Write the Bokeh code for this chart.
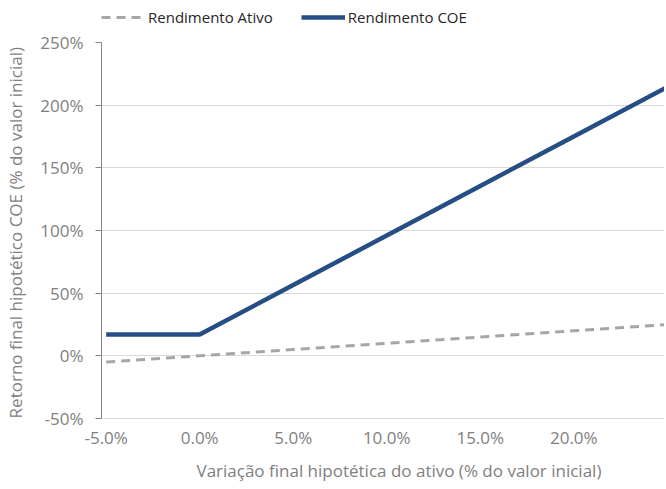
from bokeh.plotting import figure
from bokeh.layouts import column
from bokeh.models import Range1d, FixedTicker, PrintfTickFormatter, Legend, LegendItem, Title
from bokeh.embed import file_html
from bokeh.resources import INLINE

# Data (values in percent)
x_vals = [-5, 0, 5, 10, 15, 20, 25]
rend_ativo = [-5, 0, 5, 10, 15, 20, 25]
rend_coe = [17, 17, 56.5, 96, 135.5, 175, 214.5]
x_ticks = [-5, 0, 5, 10, 15, 20]
y_ticks = [-50, 0, 50, 100, 150, 200, 250]

FONT = "Open Sans"
GRAY_TXT = "#808080"
ATIVO_STYLE = dict(line_color="#a6a6a6", line_width=3, line_dash="9 6")
COE_STYLE = dict(line_color="#264d84", line_width=4.5)

W = 664
LEG_H = 28
H = 458
TOP = 14
BOTTOM = 65

# ---- legend strip (top); its ranges keep the series out of view, only the legend shows ----
pl = figure(width=W, height=LEG_H, output_backend="svg", toolbar_location=None,
            x_axis_location=None, y_axis_location=None, min_border=0,
            x_range=Range1d(1000, 1001), y_range=Range1d(1000, 1001))
pl.outline_line_color = None
pl.grid.visible = False
pl.background_fill_color = "white"
pl.border_fill_color = "white"
la = pl.line(x_vals, rend_ativo, **ATIVO_STYLE)
lc = pl.line(x_vals, rend_coe, **COE_STYLE)
legend = Legend(items=[LegendItem(label="Rendimento Ativo", renderers=[la]),
                       LegendItem(label="Rendimento COE", renderers=[lc])],
                orientation="horizontal", location=(0, 1),
                padding=0, margin=0, spacing=28, glyph_width=44, label_standoff=3,
                label_text_font=FONT, label_text_font_size="15px", label_text_color="#262626",
                border_line_alpha=0, background_fill_alpha=0)
pl.add_layout(legend, "center")

# ---- main chart ----
p = figure(width=W, height=H, output_backend="svg", toolbar_location=None,
           x_range=Range1d(-5.25, 24.85), y_range=Range1d(-50, 250),
           min_border_left=101, min_border_right=0, min_border_top=TOP, min_border_bottom=BOTTOM)
p.outline_line_color = None
p.background_fill_color = "white"
p.border_fill_color = "white"

p.line(x_vals, rend_ativo, **ATIVO_STYLE)
p.line(x_vals, rend_coe, **COE_STYLE)

# grids
p.xgrid.visible = False
p.ygrid.ticker = FixedTicker(ticks=y_ticks)
p.ygrid.grid_line_color = "#d9d9d9"
p.ygrid.grid_line_width = 1

# axes
p.xaxis.ticker = FixedTicker(ticks=x_ticks)
p.xaxis.formatter = PrintfTickFormatter(format="%.1f%%")
p.yaxis.ticker = FixedTicker(ticks=y_ticks)
p.yaxis.formatter = PrintfTickFormatter(format="%d%%")
for ax in (p.xaxis[0], p.yaxis[0]):
    ax.major_label_text_font = FONT
    ax.major_label_text_font_size = "17px"
    ax.major_label_text_color = GRAY_TXT
    ax.minor_tick_line_color = None
    ax.major_tick_in = 0
p.xaxis.axis_line_color = "#d9d9d9"
p.xaxis.major_tick_out = 0
p.xaxis.major_label_standoff = 7
p.yaxis.axis_line_color = "#868686"
p.yaxis.major_tick_line_color = "#868686"
p.yaxis.major_tick_out = 6
p.yaxis.major_label_standoff = 12

p.yaxis.axis_label = "Retorno final hipotético COE  (% do valor inicial)"
p.yaxis.axis_label_text_font = FONT
p.yaxis.axis_label_text_font_size = "17px"
p.yaxis.axis_label_text_font_style = "normal"
p.yaxis.axis_label_text_color = GRAY_TXT
p.yaxis.axis_label_standoff = 10

xt = Title(text="Variação final hipotética do ativo (% do valor inicial)", align="left",
           offset=95, text_font=FONT, text_font_size="17px", text_font_style="normal",
           text_color=GRAY_TXT, standoff=10)
p.add_layout(xt, "below")

layout = column(pl, p, spacing=0)
open("out.html", "w").write(file_html(layout, INLINE))
